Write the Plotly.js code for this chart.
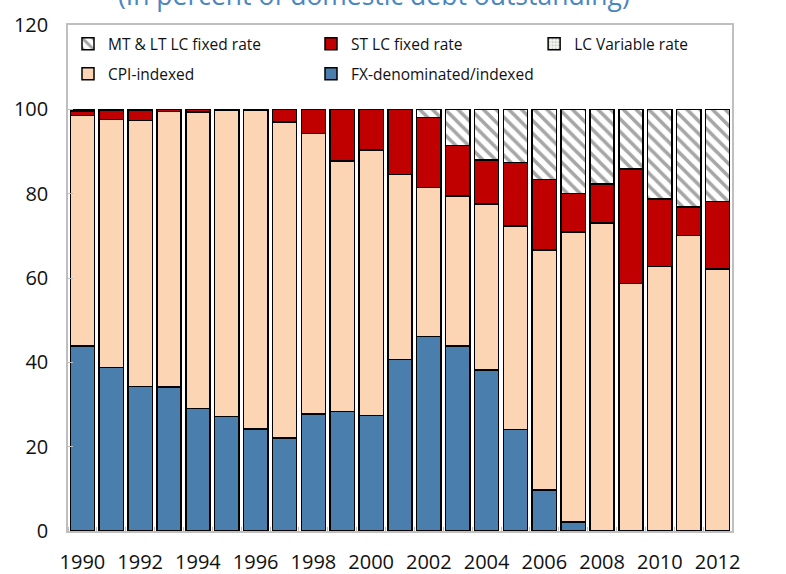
<!DOCTYPE html>
<html>
<head>
<meta charset="utf-8">
<script src="https://cdn.plot.ly/plotly-3.0.1.min.js"></script>
<style>html,body{margin:0;padding:0;background:#fff;}</style>
</head>
<body>
<div id="chart" style="width:786px;height:574px;"></div>
<script>
const years = [1990,1991,1992,1993,1994,1995,1996,1997,1998,1999,2000,2001,2002,2003,2004,2005,2006,2007,2008,2009,2010,2011,2012];
const fxIndexed = [43.9,38.8,34.3,34.1,29.1,27.2,24.2,22.0,27.7,28.3,27.4,40.7,46.1,43.9,38.2,24.1,9.7,2.1,0,0,0,0,0];
const cpiIndexed = [54.6,58.8,63.1,65.4,70.3,72.7,75.7,75.0,66.6,59.4,62.9,43.9,35.4,35.6,39.3,48.2,57.0,68.8,73.0,58.7,62.7,70.1,62.1];
const lcVariable = [0,0,0,0,0,0,0,0,0,0,0,0,0,0,0,0,0,0,0,0,0,0,0];
const stFixed = [1.1,2.1,2.3,0.5,0.6,0.1,0.1,3.0,5.7,12.3,9.7,15.4,16.6,11.9,10.5,15.1,16.7,9.1,9.3,27.2,16.0,6.7,16.0];
const mtltFixed = [0.4,0.3,0.3,0,0,0,0,0,0,0,0,0,1.9,8.6,12.0,12.6,16.6,20.0,17.7,14.1,21.3,23.2,21.9];
const titleText = '(In percent of domestic debt outstanding)';

const outline = {color:'#000000', width:1.5};
const traces = [
  {type:'bar', name:'FX-denominated/indexed', x:years, y:fxIndexed, legend:'legend2',
   marker:{color:'#4a7fad', line:outline}},
  {type:'bar', name:'CPI-indexed', x:years, y:cpiIndexed, legend:'legend2',
   marker:{color:'#fcd5b5', line:outline}},
  {type:'bar', name:'LC Variable rate', x:years, y:lcVariable, legend:'legend3',
   marker:{color:'#eef2e6', line:outline, pattern:{shape:'.', fgcolor:'#c8ccc0', bgcolor:'#f2f4ee', size:4, solidity:0.3}}},
  {type:'bar', name:'ST LC fixed rate', x:years, y:stFixed, legend:'legend',
   marker:{color:'#c00000', line:outline}},
  {type:'bar', name:'MT & LT LC fixed rate', x:years, y:mtltFixed, legend:'legend',
   marker:{color:'#ffffff', line:outline, pattern:{shape:'\\', fgcolor:'#a6a6a6', bgcolor:'#ffffff', size:9, solidity:0.4}}}
];

const legendBase = {orientation:'h', xanchor:'left', yanchor:'middle', entrywidth:198, entrywidthmode:'pixels',
  traceorder:'reversed', font:{size:15.5, color:'#111111'}, bgcolor:'rgba(0,0,0,0)', borderwidth:0};

const layout = {
  width:786, height:574,
  margin:{l:68, r:9, t:25, b:43},
  paper_bgcolor:'#ffffff', plot_bgcolor:'#ffffff',
  barmode:'stack', bargap:0.16,
  font:{family:'Open Sans, Noto Sans, sans-serif', color:'#111111'},
  showlegend:true,
  annotations:[{text:titleText, xref:'paper', yref:'paper', x:0.461, xanchor:'center',
                y:1.0206, yanchor:'bottom', showarrow:false, font:{size:26.5, color:'#4a86c0'}}],
  xaxis:{range:[1989.5,2012.5], tickmode:'linear', tick0:1990, dtick:2, ticks:'',
         showline:true, linecolor:'#bfbfbf', linewidth:1.5, mirror:true,
         showgrid:false, zeroline:false, tickfont:{size:20}, ticklabelstandoff:12,
         minor:{ticks:'inside', tick0:1989.5, dtick:1, ticklen:4, tickcolor:'#bfbfbf', showgrid:false}},
  yaxis:{range:[0,120], tickmode:'linear', tick0:0, dtick:20, ticks:'inside', ticklen:5, tickcolor:'#bfbfbf',
         showline:true, linecolor:'#bfbfbf', linewidth:1.5, mirror:true,
         showgrid:false, zeroline:false, tickfont:{size:20}, ticklabelstandoff:14},
  legend:Object.assign({}, legendBase, {x:0.0, y:0.962}),
  legend3:Object.assign({}, legendBase, {x:0.702, y:0.962}),
  legend2:Object.assign({}, legendBase, {x:0.0, y:0.903})
};

Plotly.newPlot('chart', traces, layout, {displayModeBar:false, responsive:false});
</script>
</body>
</html>
